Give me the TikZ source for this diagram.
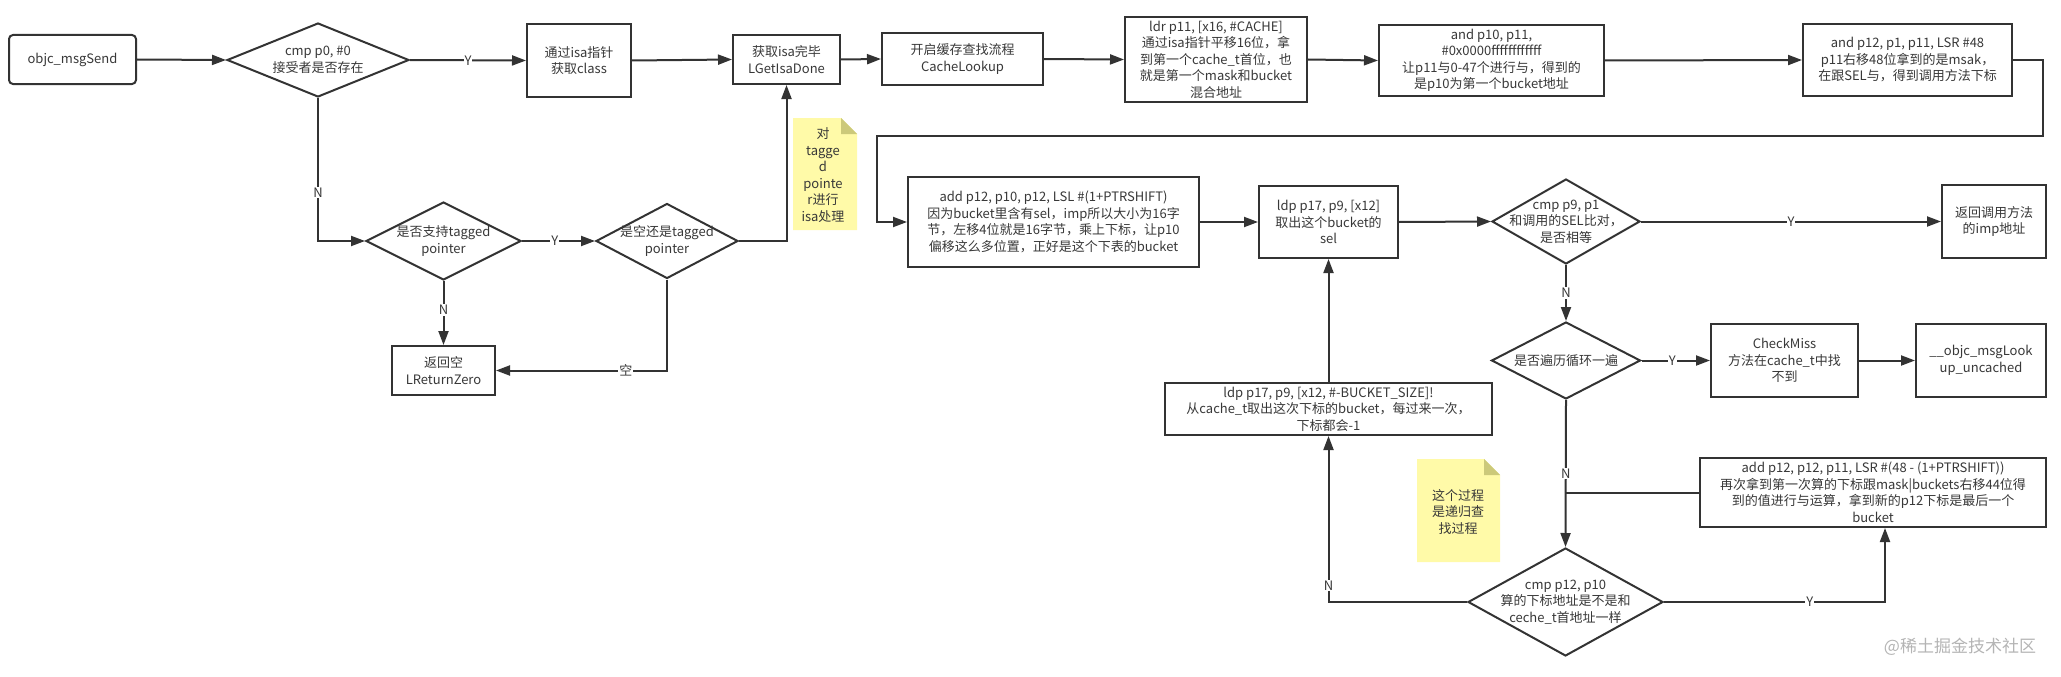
\documentclass[tikz,border=0pt]{standalone}
\usepackage{fontspec}
\setmainfont{Noto Sans CJK SC}
\usetikzlibrary{arrows.meta,shapes.geometric,calc}
\definecolor{ln}{HTML}{333333}
\definecolor{tx}{HTML}{383838}
\definecolor{notey}{HTML}{FFFAA8}
\definecolor{notef}{HTML}{CCC97A}
\definecolor{wmc}{HTML}{B4B4B4}
\newcommand\myfs{\fontsize{13pt}{16.5pt}\selectfont}
\tikzset{
 base/.style={draw=ln, line width=2pt, fill=white, text=tx, align=center, inner sep=0pt, font=\myfs},
 box/.style={base, rectangle},
 rbox/.style={box, rounded corners=4pt},
 dia/.style={base, diamond},
 dtext/.style={text=tx, align=center, font=\myfs, inner sep=0pt},
 conn/.style={draw=ln, line width=2pt, -{Triangle[length=14pt,width=10pt]}},
 plain/.style={draw=ln, line width=2pt},
 lbl/.style={fill=white, text=tx, font=\myfs, inner sep=1pt},
}
\begin{document}
\begin{tikzpicture}[x=1pt,y=-1pt]
\useasboundingbox (0,0) rectangle (2061,677);

% notes
\fill[notey] (793,118) -- (841,118) -- (857,134) -- (857,230) -- (793,230) -- cycle;
\fill[notef] (841,118) -- (857,134) -- (841,134) -- cycle;
\node[dtext] (n1) at (823,175) {对\\tagge\\d\\pointe\\r进行\\isa处理};
\fill[notey] (1417,459) -- (1484,459) -- (1500,475) -- (1500,562) -- (1417,562) -- cycle;
\fill[notef] (1484,459) -- (1500,475) -- (1484,475) -- cycle;
\node[dtext] (n2) at (1458,512) {这个过程\\是递归查\\找过程};

% boxes
\node[rbox, minimum width=127pt, minimum height=49pt] (msg) at (72.5,59.5) {objc\_msgSend};
\node[box, minimum width=104pt, minimum height=73pt] (isa) at (579,60.5) {通过isa指针\\获取class};
\node[box, minimum width=107pt, minimum height=49pt] (done) at (786.5,59.5) {获取isa完毕\\LGetIsaDone};
\node[box, minimum width=161pt, minimum height=52pt] (cache) at (962.5,59) {开启缓存查找流程\\CacheLookup};
\node[box, minimum width=182pt, minimum height=85pt] (ldr) at (1216,59.5) {ldr p11, [x16, \#CACHE]\\通过isa指针平移16位，拿\\到第一个cache\_t首位，也\\就是第一个mask和bucket\\混合地址};
\node[box, minimum width=225pt, minimum height=71pt] (and10) at (1491.5,60.5) {and p10, p11,\\\#0x0000ffffffffffff\\让p11与0-47个进行与，得到的\\是p10为第一个bucket地址};
\node[box, minimum width=209pt, minimum height=72pt] (and12) at (1907.5,60) {and p12, p1, p11, LSR \#48\\p11右移48位拿到的是msak，\\在跟SEL与，得到调用方法下标};
\node[box, minimum width=291pt, minimum height=90pt] (add) at (1053.5,222) {add p12, p10, p12, LSL \#(1+PTRSHIFT)\\因为bucket里含有sel，imp所以大小为16字\\节，左移4位就是16字节，乘上下标，让p10\\偏移这么多位置，正好是这个下表的bucket};
\node[box, minimum width=139pt, minimum height=72pt] (ldp) at (1328.5,222) {ldp p17, p9, [x12]\\取出这个bucket的\\sel};
\node[box, minimum width=104pt, minimum height=73pt] (ret) at (1994,221.5) {返回调用方法\\的imp地址};
\node[box, minimum width=147pt, minimum height=73pt] (miss) at (1784.5,360.5) {CheckMiss\\方法在cache\_t中找\\不到};
\node[box, minimum width=130pt, minimum height=73pt] (unc) at (1981,360.5) {\_\_objc\_msgLook\\up\_uncached};
\node[box, minimum width=327pt, minimum height=52pt] (ldp2) at (1328.5,409) {ldp p17, p9, [x12, \#-BUCKET\_SIZE]!\\从cache\_t取出这次下标的bucket，每过来一次，\\下标都会-1};
\node[box, minimum width=346pt, minimum height=69pt] (add2) at (1873,492.5) {add p12, p12, p11, LSR \#(48 - (1+PTRSHIFT))\\再次拿到第一次算的下标跟mask|buckets右移44位得\\到的值进行与运算，拿到新的p12下标是最后一个\\bucket};
\node[box, minimum width=103pt, minimum height=49pt] (zero) at (443.5,370.5) {返回空\\LReturnZero};

% diamonds
\node[dia, minimum width=182pt, minimum height=74pt] (d1) at (318,60) {};
\node[dtext] at (d1) {cmp p0, \#0\\接受者是否存在};
\node[dia, minimum width=155pt, minimum height=78pt] (d2) at (443.5,241) {};
\node[dtext] at (d2) {是否支持tagged\\pointer};
\node[dia, minimum width=142pt, minimum height=75pt] (d3) at (667,241) {};
\node[dtext] at (d3) {是空还是tagged\\pointer};
\node[dia, minimum width=148pt, minimum height=85pt] (d4) at (1566,221.5) {};
\node[dtext] at (d4) {cmp p9, p1\\和调用的SEL比对，\\是否相等};
\node[dia, minimum width=149pt, minimum height=77pt] (d5) at (1566,360.5) {};
\node[dtext] at (d5) {是否遍历循环一遍};
\node[dia, minimum width=195pt, minimum height=108pt] (d6) at (1565.5,602) {};
\node[dtext] at (d6) {cmp p12, p10\\算的下标地址是不是和\\ceche\_t首地址一样};

% waypoints
\coordinate (r1) at (2043,60);
\coordinate (r2) at (2043,136);
\coordinate (r3) at (877,136);
\coordinate (j) at (d5.south |- add2.west);
\coordinate (a2in) at ([xshift=12pt]add2.south);

% connectors
\draw[conn] (msg.east) -- (d1.west);
\draw[conn] (d1.east) -- node[lbl]{Y} (isa.west);
\draw[conn] (d1.south) |- node[lbl, pos=0.33]{N} (d2.west);
\draw[conn] (isa.east) -- (done.west);
\draw[conn] (d2.east) -- node[lbl, pos=0.45]{Y} (d3.west);
\draw[conn] (d2.south) -- node[lbl, pos=0.45]{N} (zero.north);
\draw[conn] (d3.south) |- node[lbl, pos=0.62]{空} (zero.east);
\draw[conn] (d3.east) -| (done.south);
\draw[conn] (done.east) -- (cache.west);
\draw[conn] (cache.east) -- (ldr.west);
\draw[conn] (ldr.east) -- (and10.west);
\draw[conn] (and10.east) -- (and12.west);
\draw[conn] (and12.east) -- (r1) -- (r2) -- (r3) |- (add.west);
\draw[conn] (add.east) -- (ldp.west);
\draw[conn] (ldp.east) -- (d4.west);
\draw[conn] (d4.east) -- node[lbl, pos=0.5]{Y} (ret.west);
\draw[conn] (d4.south) -- node[lbl, pos=0.5]{N} (d5.north);
\draw[conn] (d5.east) -- node[lbl, pos=0.45]{Y} (miss.west);
\draw[conn] (miss.east) -- (unc.west);
\draw[conn] (d5.south) -- node[lbl, pos=0.5]{N} (d6.north);
\draw[plain] (add2.west) -- (j);
\draw[conn] (d6.east) -| node[lbl, pos=0.33]{Y} (a2in);
\draw[conn] (d6.west) -| node[lbl, pos=0.55]{N} (ldp2.south);
\draw[conn] (ldp2.north) -- (ldp.south);

% watermark
\node[text=wmc, font=\fontsize{17pt}{20pt}\selectfont, inner sep=0pt] (wm) at (1960,647) {@稀土掘金技术社区};
\end{tikzpicture}
\end{document}
